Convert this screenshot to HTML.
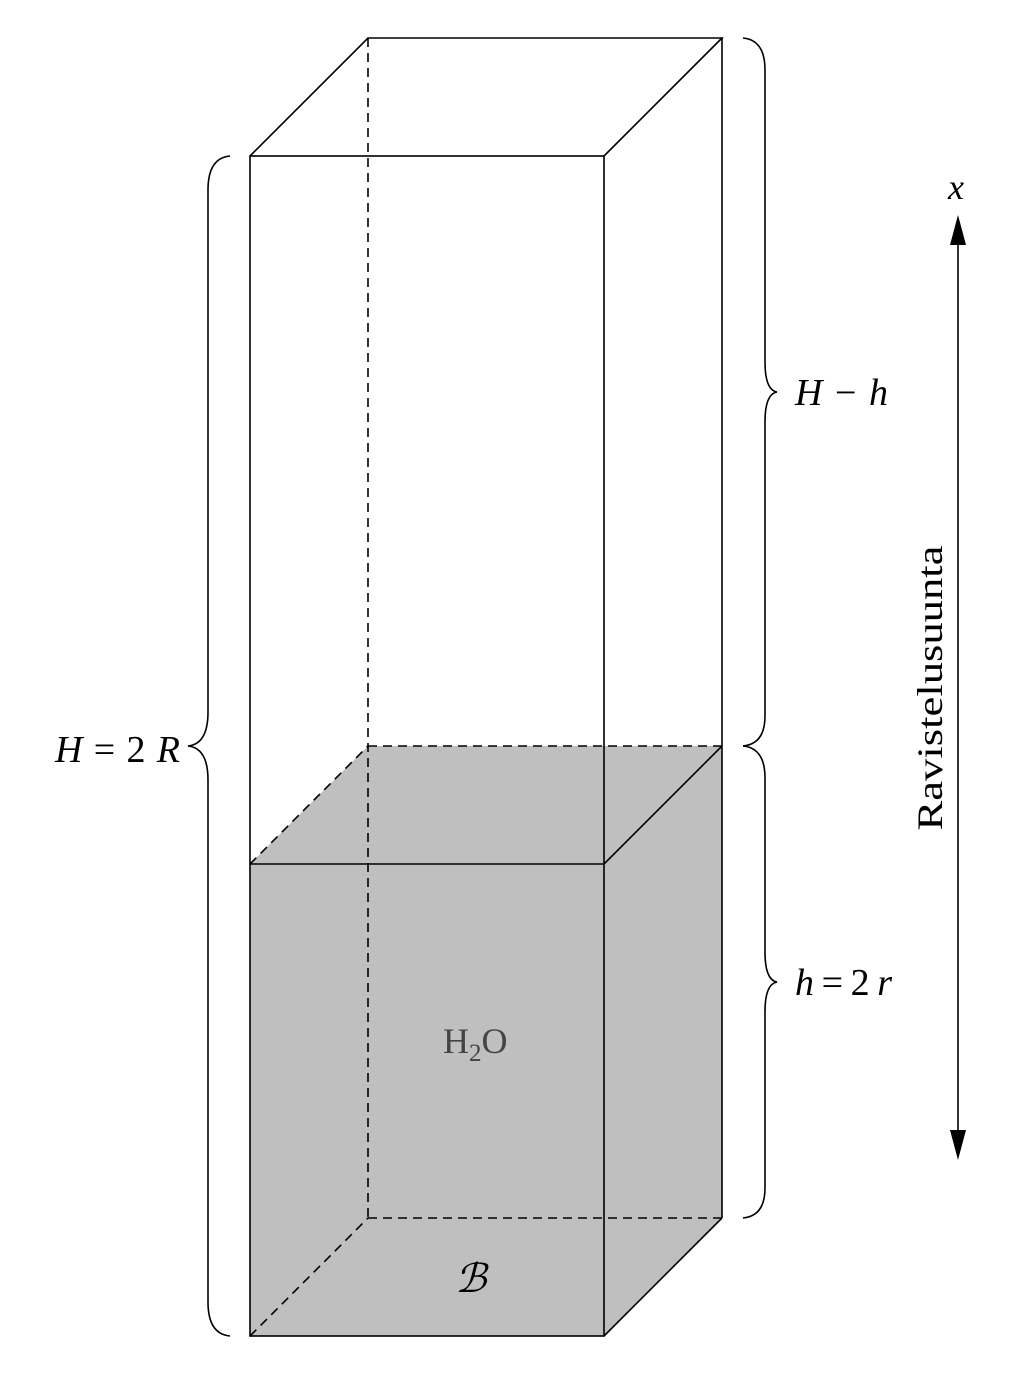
<!DOCTYPE html>
<html><head><meta charset="utf-8"><style>
html,body{margin:0;padding:0;background:#fff;}
svg{display:block;}
text{font-family:"Liberation Serif",serif;}
</style></head><body>
<svg width="1018" height="1376" viewBox="0 0 1018 1376" xmlns="http://www.w3.org/2000/svg">
<g fill="#bfbfbf" stroke="none">
<rect x="250" y="864" width="354" height="472"/>
<polygon points="604,864 722,746 722,1218 604,1336"/>
<polygon points="250,864 368,746 722,746 604,864"/>
</g>
<g stroke="#000" stroke-width="1.6" fill="none">
<line x1="368" y1="38" x2="368" y2="1218" stroke-dasharray="9,6"/>
<line x1="368" y1="1218" x2="722" y2="1218" stroke-dasharray="9,6"/>
<line x1="250" y1="1336" x2="368" y2="1218" stroke-dasharray="9,6"/>
<line x1="368" y1="746" x2="722" y2="746" stroke-dasharray="9,6"/>
<line x1="250" y1="864" x2="368" y2="746" stroke-dasharray="9,6"/>
<rect x="250" y="156" width="354" height="1180"/>
<line x1="250" y1="864" x2="604" y2="864"/>
<line x1="604" y1="864" x2="722" y2="746"/>
<polyline points="250,156 368,38 722,38 604,156"/>
<line x1="722" y1="38" x2="722" y2="1218"/>
<line x1="722" y1="1218" x2="604" y2="1336"/>
<path d="M230,156 Q208,158 208,190 L208,712 Q208,744 188,746 Q208,748 208,780 L208,1302 Q208,1334 230,1336"/>
<path d="M743,38 Q765,40 765,70 L765,362 Q765,390 777,392 Q765,394 765,422 L765,716 Q765,744 743,746"/>
<path d="M743,746 Q765,748 765,778 L765,952 Q765,980 777,982 Q765,984 765,1012 L765,1188 Q765,1216 743,1218"/>
<line x1="958" y1="235" x2="958" y2="1140"/>
</g>
<polygon points="958,215 950,245 966,245" fill="#000"/>
<polygon points="958,1160 950,1130 966,1130" fill="#000"/>
<g font-size="38" fill="#000">
<text x="55" y="762" font-style="italic" textLength="125" lengthAdjust="spacing">H<tspan font-style="normal">=2</tspan>R</text>
<text x="795" y="405" font-style="italic" textLength="93" lengthAdjust="spacing">H<tspan font-style="normal">−</tspan>h</text>
<text x="795" y="995" font-style="italic" textLength="97" lengthAdjust="spacing">h<tspan font-style="normal">=2</tspan>r</text>
<text x="948" y="199" font-style="italic" font-size="36">x</text>
<text x="443" y="1053" fill="#444" font-size="36">H<tspan font-size="25" dy="8">2</tspan><tspan dy="-8">O</tspan></text>
<text x="455" y="1292" font-style="italic" font-size="40">ℬ</text>
<text transform="translate(942,688) rotate(-90)" text-anchor="middle" font-size="36" textLength="285" lengthAdjust="spacingAndGlyphs">Ravistelusuunta</text>
</g>
</svg>
</body></html>
